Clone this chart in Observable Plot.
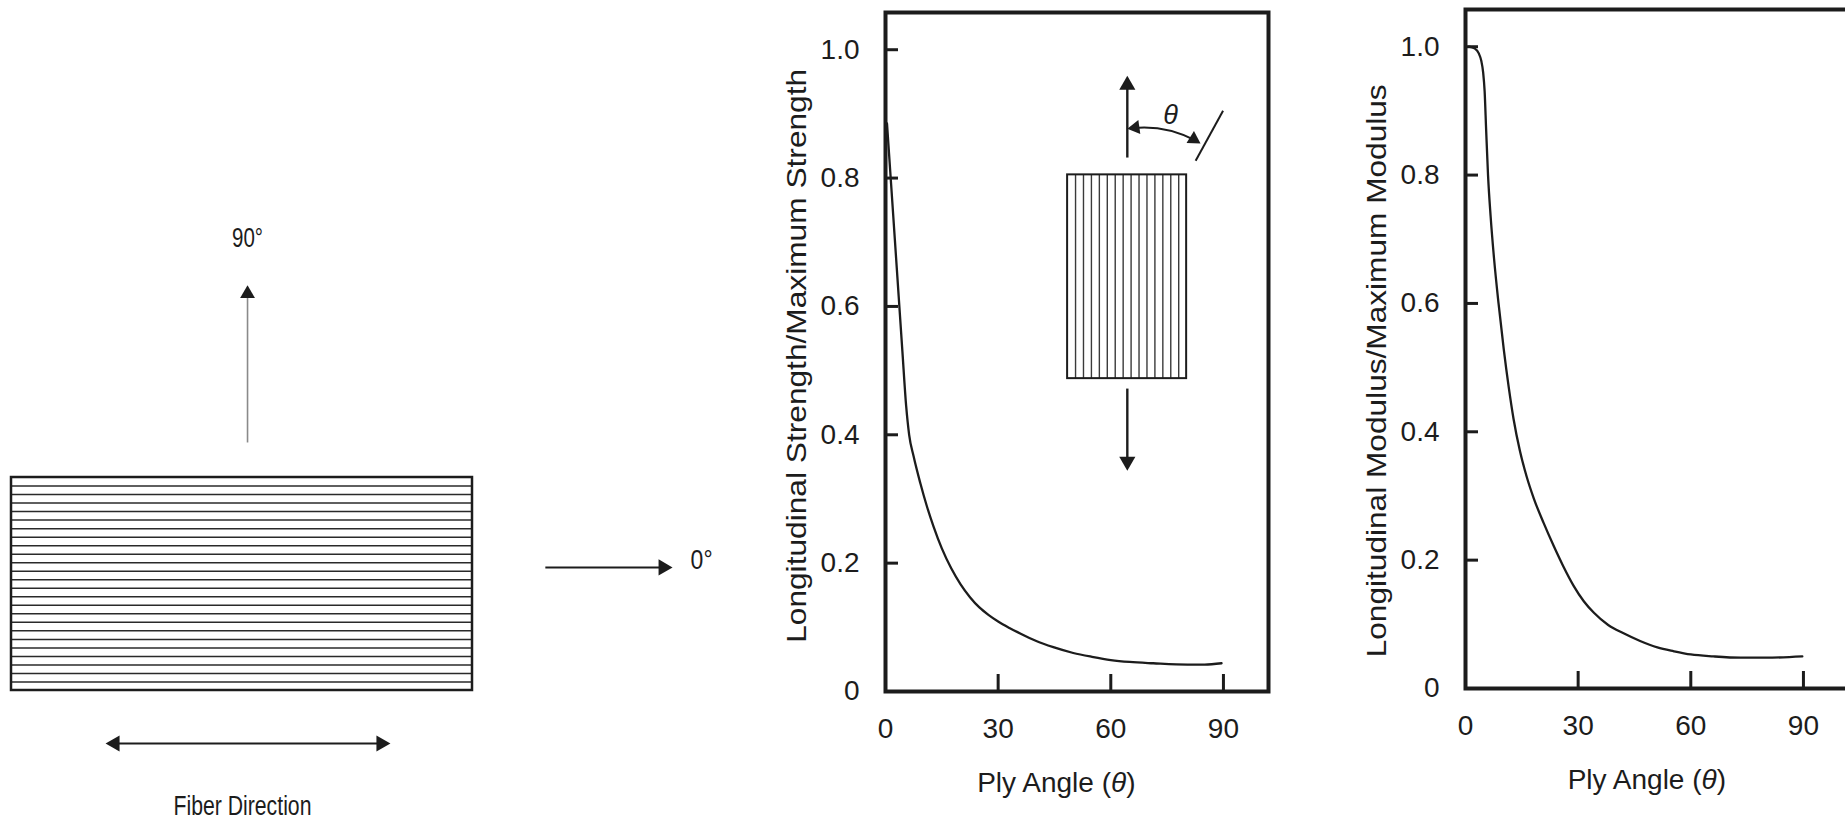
<!DOCTYPE html>
<html><head><meta charset="utf-8">
<script src="https://cdn.jsdelivr.net/npm/d3@7"></script>
<script src="https://cdn.jsdelivr.net/npm/@observablehq/plot@0.6"></script>
<style>
html,body{margin:0;padding:0;background:#fff;overflow:hidden;}
#wrap{position:relative;width:1845px;height:820px;overflow:hidden;background:#fff;}
#wrap svg{position:absolute;}
</style></head><body><div id="wrap"></div>
<script>
// ---------------- data ----------------
const strengthTheta = [0.4, 1.5, 3.0, 4.5, 5.5, 6.3, 7.5, 9.3, 11, 12.8, 15, 17.5, 20, 22.5, 25, 27.5, 30, 33, 36, 40, 44.7, 50, 55, 60, 65, 71.3, 80.4, 85, 89.5];
const strengthValue = [0.885, 0.79, 0.66, 0.53, 0.445, 0.40, 0.366, 0.324, 0.289, 0.257, 0.223, 0.192, 0.167, 0.147, 0.131, 0.119, 0.109, 0.099, 0.090, 0.079, 0.069, 0.060, 0.054, 0.049, 0.046, 0.044, 0.042, 0.042, 0.044];

const modulusTheta = [0.9, 2.5, 3.5, 4.2, 4.7, 5.1, 5.5, 6.0, 6.7, 7.6, 8.8, 10.2, 11.5, 12.8, 14.5, 16.3, 18.2, 20.8, 23.5, 26, 28.8, 31.5, 34.2, 38, 42.1, 46.5, 51.1, 55.5, 60, 66, 73.3, 80, 89.7];
const modulusValue = [1.0, 0.997, 0.99, 0.978, 0.96, 0.93, 0.87, 0.80, 0.735, 0.67, 0.60, 0.528, 0.47, 0.42, 0.37, 0.33, 0.296, 0.258, 0.222, 0.191, 0.160, 0.136, 0.118, 0.099, 0.086, 0.074, 0.064, 0.058, 0.053, 0.050, 0.048, 0.048, 0.050];

const xTicks = [0, 30, 60, 90];
const xTickLabels = ["0", "30", "60", "90"];
const yTicks = [0, 0.2, 0.4, 0.6, 0.8, 1.0];
const yTickLabels = ["0", "0.2", "0.4", "0.6", "0.8", "1.0"];
const xLabel = "Ply Angle (θ)";
const strengthLabel = "Longitudinal Strength/Maximum Strength";
const modulusLabel = "Longitudinal Modulus/Maximum Modulus";
const diagramLabels = ["90°", "0°", "Fiber Direction"];

// ---------------- styles / geometry ----------------
const FONT = "'Liberation Sans', Arial, Helvetica, sans-serif";
const INK = "#1c1c1c";
const W = 520, H = 820, ML = 125, MR = 12, MT = 12, MB = 129;
const FW = W - ML - MR, FH = H - MT - MB;
const X_DOMAIN = [0, 102], Y_DOMAIN = [0, 1.058];
const wrap = document.getElementById("wrap");
const NS = "http://www.w3.org/2000/svg";

function fitText(svg, str, len) {
  svg.querySelectorAll("text").forEach(t => {
    if (t.textContent === str) { t.setAttribute("textLength", len); t.setAttribute("lengthAdjust", "spacingAndGlyphs"); }
  });
}
function italicTheta(svg) {
  svg.querySelectorAll("text").forEach(t => {
    if (t.textContent === xLabel) {
      t.textContent = "Ply Angle (";
      const ts = document.createElementNS(NS, "tspan");
      ts.setAttribute("font-style", "italic");
      ts.textContent = "θ";
      t.appendChild(ts);
      t.appendChild(document.createTextNode(")"));
    }
  });
}
// arrowhead: triangle dot whose tip sits on (x,y), pointing at angle a (deg clockwise from up)
function head(x, y, a, r = 6) {
  const yy = Math.sqrt(Math.PI * r * r / (3 * Math.sqrt(3)));
  const off = 2 * yy, rad = a * Math.PI / 180;
  return Plot.dot([{x, y}], {x: "x", y: "y", symbol: "triangle", r, rotate: a, fill: INK, stroke: "none",
    dx: -off * Math.sin(rad), dy: off * Math.cos(rad)});
}

// ---------------- left diagram ----------------
const DPX = 4.61;
const laminate = {x1: 0, x2: 100, y1: 0, y2: 46.2};
const fiberCount = 25;
const fibers = d3.range(1, fiberCount).map(i => laminate.y1 + i * (laminate.y2 - laminate.y1) / fiberCount);
const upArrow = {x1: 51.2, y1: 53.8, x2: 51.2, y2: 87.9};
const rightArrow = {x1: 115.8, y1: 26.7, x2: 143.4, y2: 26.7};
const fiberArrow = {x1: 20.4, y1: -11.5, x2: 82.2, y2: -11.5};
const diagramText = [
  {x: 51.2, y: 98.0, text: diagramLabels[0], len: 31},
  {x: 149.7, y: 28.2, text: diagramLabels[1], len: 22},
  {x: 50.1, y: -25.1, text: diagramLabels[2], len: 138}
];
const DW = 760;
const diagram = Plot.plot({
  width: DW, height: H, margin: 0,
  style: {fontFamily: FONT, color: INK, background: "transparent", maxWidth: "none", overflow: "visible"},
  x: {domain: [-11 / DPX, (DW - 11) / DPX], axis: null},
  y: {domain: [(690 - H) / DPX, 690 / DPX], axis: null},
  marks: [
    Plot.ruleY(fibers, {y: d => d, x1: () => laminate.x1, x2: () => laminate.x2, stroke: "#2a2a2a", strokeWidth: 1.5}),
    Plot.rect([laminate], {x1: "x1", x2: "x2", y1: "y1", y2: "y2", fill: "none", stroke: INK, strokeWidth: 2.5}),
    Plot.arrow([upArrow], {x1: "x1", y1: "y1", x2: "x2", y2: "y2", headLength: 0, insetEnd: 8, stroke: "#8a8a8a", strokeWidth: 1.6, strokeLinecap: "butt"}),
    head(upArrow.x2, upArrow.y2, 0, 5.5),
    Plot.arrow([rightArrow], {x1: "x1", y1: "y1", x2: "x2", y2: "y2", headLength: 0, insetEnd: 8, stroke: INK, strokeWidth: 2, strokeLinecap: "butt"}),
    head(rightArrow.x2, rightArrow.y2, 90, 6),
    Plot.arrow([fiberArrow], {x1: "x1", y1: "y1", x2: "x2", y2: "y2", headLength: 0, insetStart: 8, insetEnd: 8, stroke: INK, strokeWidth: 2.2, strokeLinecap: "butt"}),
    head(fiberArrow.x1, fiberArrow.y1, 270, 6),
    head(fiberArrow.x2, fiberArrow.y2, 90, 6),
    Plot.text(diagramText, {x: "x", y: "y", text: "text", fontSize: 27, fill: INK, lineAnchor: "middle", textAnchor: "middle"})
  ]
});
diagram.style.left = "0px"; diagram.style.top = "0px";
wrap.appendChild(diagram);
diagramText.forEach(d => fitText(diagram, d.text, d.len));

// ---------------- charts ----------------
function chart(theta, value, label, labelY, labelX, extra) {
  const data = theta.map((t, i) => ({theta: t, value: value[i]}));
  return Plot.plot({
    width: W, height: H, marginLeft: ML, marginRight: MR, marginTop: MT, marginBottom: MB,
    style: {fontFamily: FONT, fontSize: "28px", color: INK, background: "transparent", maxWidth: "none", overflow: "visible"},
    x: {domain: X_DOMAIN, ticks: xTicks, tickSize: 0, tickPadding: 27, label: null, tickFormat: d => xTickLabels[xTicks.indexOf(d)]},
    y: {domain: Y_DOMAIN, ticks: yTicks, tickSize: 0, tickPadding: 26, label: null, tickFormat: d => yTickLabels[yTicks.indexOf(d)]},
    marks: [
      ...extra,
      Plot.tickY(yTicks.slice(1), {y: d => d, stroke: INK, strokeWidth: 3, insetRight: FW - 13}),
      Plot.tickX(xTicks.slice(1), {x: d => d, stroke: INK, strokeWidth: 3, insetTop: FH - 17}),
      Plot.line(data, {x: "theta", y: "value", curve: "monotone-x", stroke: INK, strokeWidth: 2.3}),
      Plot.frame({stroke: INK, strokeWidth: 4}),
      Plot.text([label], {text: d => d, frameAnchor: "left", y: () => labelY, rotate: -90, dx: -80, textAnchor: "middle", lineAnchor: "bottom", fontSize: 28, fill: INK}),
      Plot.text([xLabel], {text: d => d, x: () => labelX, frameAnchor: "bottom", dy: 92, textAnchor: "middle", lineAnchor: "middle", fontSize: 28, fill: INK})
    ]
  });
}

// inset sketch inside the strength chart (in chart coordinates: ply angle, ratio)
const insetBox = {x1: 48.5, x2: 80.2, y1: 0.4875, y2: 0.805};
const insetFiberCount = 15;
const insetFibers = d3.range(1, insetFiberCount).map(i => insetBox.x1 + i * (insetBox.x2 - insetBox.x1) / insetFiberCount);
const loadUp = {x1: 64.4, y1: 0.832, x2: 64.4, y2: 0.9595};
const loadDown = {x1: 64.4, y1: 0.472, x2: 64.4, y2: 0.344};
const angleArc = {x1: 64.4, y1: 0.877, x2: 83.9, y2: 0.854};
const fiberTick = {x1: 82.6, y1: 0.827, x2: 89.9, y2: 0.905};
const thetaMark = {x: 75.9, y: 0.897, text: "θ"};

const insetMarks = [
  Plot.ruleX(insetFibers, {x: d => d, y1: () => insetBox.y1, y2: () => insetBox.y2, stroke: "#3a3a3a", strokeWidth: 1.4}),
  Plot.rect([insetBox], {x1: "x1", x2: "x2", y1: "y1", y2: "y2", fill: "none", stroke: INK, strokeWidth: 2}),
  Plot.arrow([loadUp, loadDown], {x1: "x1", y1: "y1", x2: "x2", y2: "y2", headLength: 0, insetEnd: 8, stroke: INK, strokeWidth: 2.4, strokeLinecap: "butt"}),
  head(loadUp.x2, loadUp.y2, 0, 6),
  head(loadDown.x2, loadDown.y2, 180, 6),
  Plot.arrow([angleArc], {x1: "x1", y1: "y1", x2: "x2", y2: "y2", bend: 20, headLength: 0, insetStart: 6, insetEnd: 6, stroke: INK, strokeWidth: 2, strokeLinecap: "butt"}),
  head(angleArc.x1, angleArc.y1, 262, 5.2),
  head(angleArc.x2, angleArc.y2, 122, 5.2),
  Plot.link([fiberTick], {x1: "x1", y1: "y1", x2: "x2", y2: "y2", stroke: INK, strokeWidth: 2}),
  Plot.text([thetaMark], {x: "x", y: "y", text: "text", fontSize: 27, fontStyle: "italic", fill: INK, lineAnchor: "middle", textAnchor: "middle"})
];

const c1 = chart(strengthTheta, strengthValue, strengthLabel, 0.523, 45.5, insetMarks);
c1.style.left = (885 - ML) + "px"; c1.style.top = "0px";
wrap.appendChild(c1);
fitText(c1, strengthLabel, 574);
italicTheta(c1);

const c2 = chart(modulusTheta, modulusValue, modulusLabel, 0.495, 48.3, []);
c2.style.left = (1465 - ML) + "px"; c2.style.top = "-3px";
wrap.appendChild(c2);
fitText(c2, modulusLabel, 573);
italicTheta(c2);
</script>
</body></html>
